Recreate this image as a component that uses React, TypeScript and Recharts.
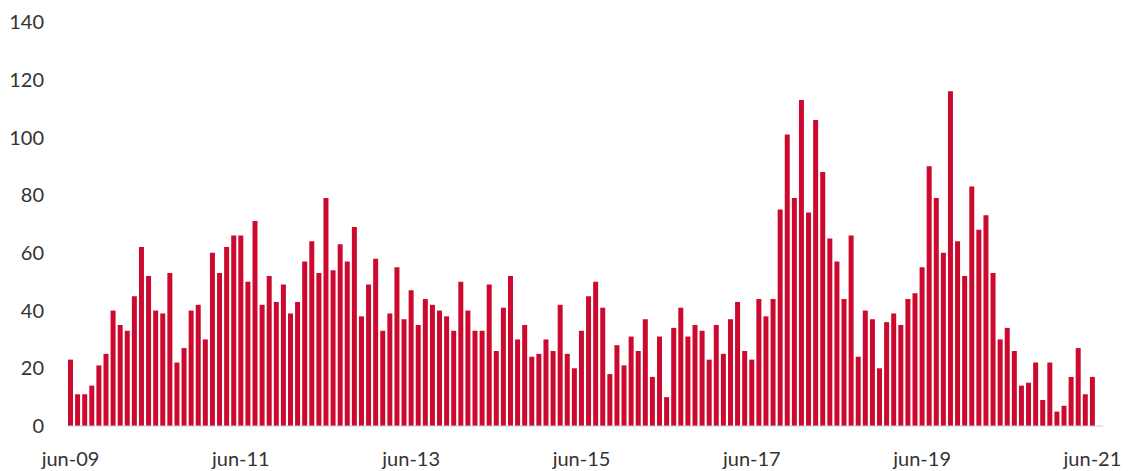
import { BarChart, Bar, XAxis, YAxis } from "recharts"

const MONTHS = ['ene', 'feb', 'mar', 'abr', 'may', 'jun', 'jul', 'ago', 'sep', 'oct', 'nov', 'dic']

// monthly counts, jun-09 .. jun-21
const VALUES = [
  23, 11, 11, 14, 21, 25, 40, 35, 33, 45,
  62, 52, 40, 39, 53, 22, 27, 40, 42, 30,
  60, 53, 62, 66, 66, 50, 71, 42, 52, 43,
  49, 39, 43, 57, 64, 53, 79, 54, 63, 57,
  69, 38, 49, 58, 33, 39, 55, 37, 47, 35,
  44, 42, 40, 38, 33, 50, 40, 33, 33, 49,
  26, 41, 52, 30, 35, 24, 25, 30, 26, 42,
  25, 20, 33, 45, 50, 41, 18, 28, 21, 31,
  26, 37, 17, 31, 10, 34, 41, 31, 35, 33,
  23, 35, 25, 37, 43, 26, 23, 44, 38, 44,
  75, 101, 79, 113, 74, 106, 88, 65, 57, 44,
  66, 24, 40, 37, 20, 36, 39, 35, 44, 46,
  55, 90, 79, 60, 116, 64, 52, 83, 68, 73,
  53, 30, 34, 26, 14, 15, 22, 9, 22, 5,
  7, 17, 27, 11, 17,
]

const X_TICKS = ['jun-09', 'jun-11', 'jun-13', 'jun-15', 'jun-17', 'jun-19', 'jun-21']
const Y_TICKS = [0, 20, 40, 60, 80, 100, 120, 140]

// month labels starting at jun-09
const monthLabel = (i: number) => {
  const m = (5 + i) % 12
  const y = 9 + Math.floor((5 + i) / 12)
  return `${MONTHS[m]}-${String(y).padStart(2, '0')}`
}

const data = VALUES.map((v, i) => ({ month: monthLabel(i), value: v }))

const tickStyle = { fill: '#333', fontSize: 20, fontFamily: 'Lato, sans-serif' }

export default function App() {
  return (
    <div style={{ position: 'absolute', left: 0, top: 0, background: '#fff' }}>
      <BarChart
        width={1128}
        height={471}
        data={data}
        margin={{ top: 22, right: 25, left: 0, bottom: 0 }}
        barCategoryGap={1}
      >
        <XAxis
          dataKey="month"
          ticks={X_TICKS}
          interval={0}
          height={45}
          padding={{ left: 0, right: 7 }}
          axisLine={{ stroke: '#cccccc', strokeWidth: 1 }}
          tickLine={false}
          tickSize={0}
          tickMargin={26}
          tick={tickStyle}
        />
        <YAxis
          width={67}
          domain={[0, 140]}
          ticks={Y_TICKS}
          axisLine={false}
          tickLine={false}
          tickSize={0}
          tickMargin={23}
          tick={tickStyle}
        />
        <Bar dataKey="value" fill="#cc0a2f" isAnimationActive={false} />
      </BarChart>
    </div>
  )
}
